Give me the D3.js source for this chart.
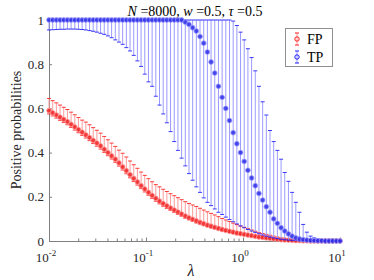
<!DOCTYPE html>
<html><head><meta charset="utf-8">
<script src="https://cdn.jsdelivr.net/npm/d3@7"></script>
<style>body{margin:0;background:#fff}svg{display:block}text{font-family:"Liberation Serif","Times New Roman",serif}</style>
</head><body><svg id="c" width="374" height="280"></svg>
<script>
// λ grid: 80 log-spaced values between 1e-2 and 1e1
const nPts = 80;
const lambda = d3.range(nPts).map(i => Math.pow(10, -2 + 3 * i / (nPts - 1)));

const tpMean = [1,1,1,1,1,1,1,1,1,1, 1,1,1,1,1,1,1,1,1,1, 1,1,1,1,1,1,1,1,1,1, 1,1,1,1,1,1,1,0.99,0.98,0.965,
  0.95,0.925,0.895,0.855,0.81,0.76,0.70,0.65,0.60,0.545, 0.49,0.44,0.40,0.36,0.32,0.285,0.25,0.215,0.185,0.155,
  0.13,0.10,0.08,0.06,0.045,0.032,0.022,0.014,0.009,0.006, 0.004,0.003,0.002,0.001,0.001,0,0,0,0,0];
const tpHigh = [1,1,1,1,1,1,1,1,1,1, 1,1,1,1,1,1,1,1,1,1, 1,1,1,1,1,1,1,1,1,1, 1,1,1,1,1,1,1,1,1,1,
  1,1,1,1,1,1,1,1,1,1, 0.995,0.975,0.945,0.91,0.87,0.83,0.77,0.70,0.63,0.57,
  0.50,0.45,0.41,0.37,0.31,0.27,0.22,0.175,0.13,0.075, 0.04,0.022,0.014,0.009,0.006,0.004,0.003,0.002,0.001,0.001];
const tpLow = [0.955,0.956,0.957,0.958,0.958,0.959,0.959,0.959,0.958,0.957, 0.955,0.952,0.949,0.945,0.94,0.935,0.928,0.92,0.91,0.90,
  0.89,0.875,0.86,0.84,0.815,0.79,0.755,0.72,0.70,0.655, 0.615,0.575,0.535,0.495,0.45,0.41,0.375,0.34,0.305,0.275,
  0.245,0.22,0.195,0.175,0.16,0.145,0.13,0.12,0.108,0.097, 0.087,0.077,0.068,0.06,0.052,0.045,0.039,0.033,0.027,0.022,
  0.018,0.014,0.011,0.008,0.006,0.004,0.003,0.002,0.001,0, 0,0,0,0,0,0,0,0,0,0];

const fpMean = [0.59,0.58,0.57,0.56,0.55,0.54,0.528,0.516,0.504,0.492, 0.48,0.468,0.455,0.443,0.43,0.415,0.40,0.385,0.37,0.353,
  0.335,0.318,0.30,0.283,0.267,0.25,0.235,0.22,0.206,0.193, 0.18,0.169,0.159,0.149,0.14,0.131,0.122,0.113,0.105,0.098,
  0.091,0.084,0.078,0.072,0.067,0.062,0.057,0.052,0.048,0.044, 0.04,0.036,0.033,0.030,0.027,0.024,0.021,0.018,0.016,0.014,
  0.012,0.010,0.008,0.006,0.005,0.004,0.003,0.002,0.002,0.001, 0.001,0,0,0,0,0,0,0,0,0];
const fpHigh = [0.645,0.635,0.625,0.615,0.605,0.595,0.583,0.571,0.559,0.547, 0.538,0.526,0.513,0.501,0.488,0.473,0.458,0.443,0.428,0.411,
  0.397,0.38,0.362,0.345,0.329,0.312,0.297,0.282,0.268,0.255, 0.245,0.234,0.224,0.214,0.205,0.196,0.187,0.178,0.17,0.163,
  0.156,0.148,0.14,0.132,0.125,0.118,0.11,0.102,0.095,0.088, 0.081,0.074,0.068,0.062,0.056,0.05,0.044,0.038,0.034,0.03,
  0.026,0.022,0.018,0.014,0.011,0.009,0.007,0.005,0.004,0.003, 0.002,0,0,0,0,0,0,0,0,0];
const fpLow = [0.575,0.566,0.556,0.546,0.536,0.526,0.514,0.502,0.49,0.478, 0.466,0.454,0.441,0.429,0.416,0.401,0.386,0.371,0.356,0.339,
  0.321,0.304,0.286,0.269,0.253,0.237,0.222,0.207,0.193,0.18, 0.168,0.157,0.147,0.138,0.129,0.12,0.112,0.103,0.096,0.089,
  0.082,0.076,0.07,0.065,0.06,0.055,0.051,0.046,0.043,0.039, 0.035,0.032,0.029,0.026,0.023,0.021,0.018,0.015,0.013,0.011,
  0.01,0.008,0.006,0.005,0.004,0.003,0.002,0.001,0.001,0, 0,0,0,0,0,0,0,0,0,0];

const yTicks = [0, 0.2, 0.4, 0.6, 0.8, 1];
const yTickLabels = ["0", "0.2", "0.4", "0.6", "0.8", "1"];
const xDecades = [0.01, 0.1, 1, 10];
const xExponents = ["-2", "-1", "0", "1"];
const seriesNames = ["FP", "TP"];

const svg = d3.select("#c");
const L = 49, R = 340, T = 20, B = 241;
const x = d3.scaleLog().domain([0.01, 10]).range([L, R]);
const y = d3.scaleLinear().domain([0, 1]).range([B, T]);
const axisCol = "#808080", txtCol = "#262626";

// axes
const xAx = svg.append("g").attr("transform", `translate(0,${B})`)
  .call(d3.axisBottom(x).tickValues(x.ticks()).tickSizeInner(-2.5).tickSizeOuter(0).tickFormat(""));
xAx.selectAll(".tick line").attr("stroke", axisCol)
  .attr("y2", d => (xDecades.includes(+d.toPrecision(3)) ? -3.5 : -2.5));
xAx.select(".domain").attr("stroke", axisCol);
const yAx = svg.append("g").attr("transform", `translate(${L},0)`)
  .call(d3.axisLeft(y).tickValues(yTicks).tickSizeInner(-3).tickSizeOuter(0).tickFormat(""));
yAx.selectAll(".tick line").attr("stroke", axisCol);
yAx.select(".domain").attr("stroke", axisCol);

svg.append("g").selectAll("text").data(yTicks).join("text")
  .attr("x", L - 5).attr("y", d => y(d) + 4.5).attr("text-anchor", "end")
  .attr("font-size", 13).attr("fill", txtCol).text((d, i) => yTickLabels[i]);

const xl = svg.append("g").selectAll("text").data(xDecades).join("text")
  .attr("x", d => x(d) - 3).attr("y", 262).attr("text-anchor", "middle")
  .attr("font-size", 13).attr("fill", txtCol);
xl.append("tspan").text("10");
xl.append("tspan").attr("dy", -6).attr("font-size", 9).text((d, i) => xExponents[i]);

// series
function drawSeries(mean, lo, hi, col, barCol, dotFill) {
  const g = svg.append("g");
  const idx = d3.range(nPts);
  g.selectAll("line.bar").data(idx).join("line")
    .attr("x1", i => x(lambda[i])).attr("x2", i => x(lambda[i]))
    .attr("y1", i => y(lo[i])).attr("y2", i => y(hi[i]))
    .attr("stroke", barCol).attr("stroke-width", 1);
  [lo, hi].forEach(arr => {
    g.selectAll(null).data(idx).join("line")
      .attr("x1", i => x(lambda[i]) - 2).attr("x2", i => x(lambda[i]) + 2)
      .attr("y1", i => y(arr[i])).attr("y2", i => y(arr[i]))
      .attr("stroke", col).attr("stroke-opacity", 0.85).attr("stroke-width", 1);
  });
  g.selectAll("circle").data(idx).join("circle")
    .attr("cx", i => x(lambda[i])).attr("cy", i => y(mean[i])).attr("r", 2.4)
    .attr("fill", dotFill).attr("fill-opacity", 0.85)
    .attr("stroke", barCol).attr("stroke-width", 0.8);
}
drawSeries(fpMean, fpLow, fpHigh, "#ff1a1a", "#ff9a9a", "#f02020");
drawSeries(tpMean, tpLow, tpHigh, "#1a1aff", "#9a9aff", "#2a2ae8");

// title
const tt = svg.append("text").attr("x", 195).attr("y", 16).attr("text-anchor", "middle")
  .attr("font-size", 14).attr("fill", "#000");
tt.append("tspan").attr("font-style", "italic").text("N");
tt.append("tspan").text(" =8000, ");
tt.append("tspan").attr("font-style", "italic").text("w");
tt.append("tspan").text(" =0.5, ");
tt.append("tspan").attr("font-style", "italic").text("τ");
tt.append("tspan").text(" =0.5");

// axis labels
svg.append("text").attr("transform", "translate(21,130) rotate(-90)").attr("text-anchor", "middle")
  .attr("font-size", 14).attr("fill", txtCol).text("Positive probabilities");
svg.append("text").attr("x", 191).attr("y", 276).attr("text-anchor", "middle")
  .attr("font-size", 16).attr("font-style", "italic").attr("fill", txtCol).text("λ");

// legend
const lg = svg.append("g");
lg.append("rect").attr("x", 285.5).attr("y", 28.5).attr("width", 47).attr("height", 38)
  .attr("fill", "#fff").attr("stroke", "#909090").attr("stroke-width", 1);
const legCols = [["#ff1a1a", "#ff9a9a", "#f02020"], ["#1a1aff", "#9a9aff", "#2a2ae8"]];
seriesNames.forEach((nm, k) => {
  const cy = 39 + k * 18, cx = 297;
  const c = legCols[k];
  lg.append("line").attr("x1", cx).attr("x2", cx).attr("y1", cy - 6).attr("y2", cy + 6).attr("stroke", c[1]);
  [cy - 6, cy + 6].forEach(yy => lg.append("line").attr("x1", cx - 2).attr("x2", cx + 2)
    .attr("y1", yy).attr("y2", yy).attr("stroke", c[0]));
  lg.append("circle").attr("cx", cx).attr("cy", cy).attr("r", 2.2).attr("fill", "none").attr("stroke", c[0]);
  lg.append("text").attr("x", 307).attr("y", cy + 5).attr("font-size", 14).attr("fill", "#000").text(nm);
});
</script></body></html>
